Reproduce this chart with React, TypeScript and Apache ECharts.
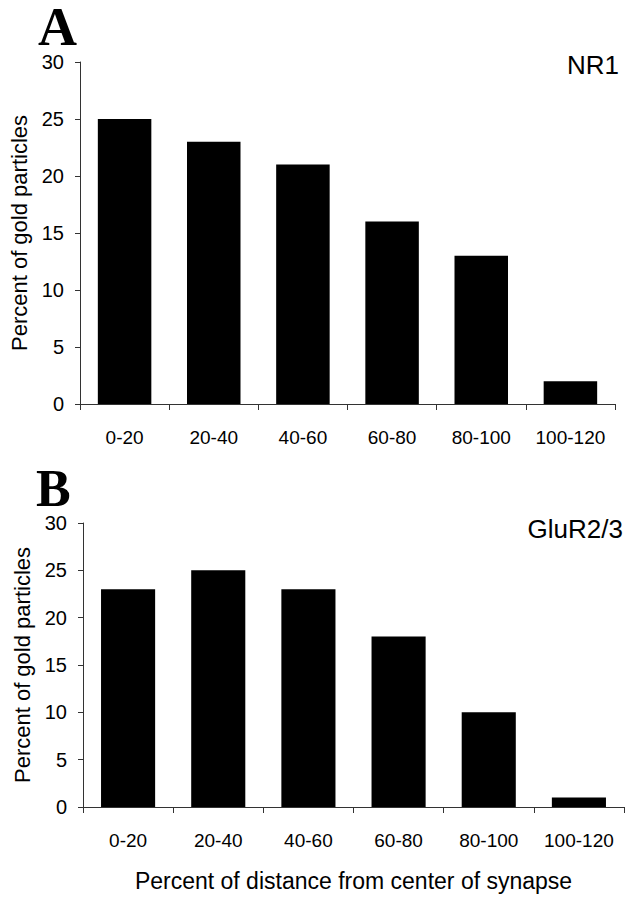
import React, { useEffect, useRef } from "react";
import * as echarts from "echarts";

const categories = ["0-20", "20-40", "40-60", "60-80", "80-100", "100-120"];
const nr1Values = [25, 23, 21, 16, 13, 2];
const gluValues = [23, 25, 23, 18, 10, 1];
const yAxisName = "Percent of gold particles";
const xAxisName = "Percent of distance from center of synapse";
const panelLabels = ["A", "B"];
const seriesNames = ["NR1", "GluR2/3"];

const SANS = "Liberation Sans";
const SERIF = "Liberation Serif";

function makeX(gridIndex: number, withName: boolean) {
  return {
    type: "category",
    gridIndex,
    data: categories,
    boundaryGap: true,
    axisLine: { show: true, lineStyle: { color: "#333", width: 1 } },
    axisTick: { show: true, length: 6, alignWithLabel: false, lineStyle: { color: "#333" } },
    axisLabel: { color: "#000", fontFamily: SANS, fontSize: 19, margin: 24, interval: 0 },
    name: withName ? xAxisName : "",
    nameLocation: "middle",
    nameGap: 62,
    nameTextStyle: { color: "#000", fontFamily: SANS, fontSize: 23 },
  };
}

function makeY(gridIndex: number) {
  return {
    type: "value",
    gridIndex,
    min: 0,
    max: 30,
    interval: 5,
    splitLine: { show: false },
    axisLine: { show: true, lineStyle: { color: "#333", width: 1 } },
    axisTick: { show: true, length: 5, lineStyle: { color: "#333" } },
    axisLabel: { color: "#000", fontFamily: SANS, fontSize: 20, margin: 16 },
    name: yAxisName,
    nameLocation: "middle",
    nameGap: 50,
    nameTextStyle: { color: "#000", fontFamily: SANS, fontSize: 22 },
  };
}

export default function App() {
  const ref = useRef<HTMLDivElement>(null);
  useEffect(() => {
    document.body.style.margin = "0";
    const chart = echarts.init(ref.current!, null, { renderer: "svg" });
    chart.setOption({
      animation: false,
      backgroundColor: "#fff",
      grid: [
        { left: 73, right: 18, top: 62, height: 342 },
        { left: 83, right: 9, top: 523, height: 284 },
      ],
      xAxis: [makeX(0, false), makeX(1, true)],
      yAxis: [makeY(0), makeY(1)],
      series: [
        {
          type: "bar",
          name: seriesNames[0],
          xAxisIndex: 0,
          yAxisIndex: 0,
          data: nr1Values,
          barCategoryGap: "40%",
          itemStyle: { color: "#000" },
        },
        {
          type: "bar",
          name: seriesNames[1],
          xAxisIndex: 1,
          yAxisIndex: 1,
          data: gluValues,
          barCategoryGap: "40%",
          itemStyle: { color: "#000" },
        },
      ],
      graphic: [
        {
          type: "text",
          left: 38,
          top: 0,
          style: { text: panelLabels[0], font: `bold 54px "${SERIF}"`, lineHeight: 46, fill: "#000" },
        },
        {
          type: "text",
          left: 36,
          top: 462,
          style: { text: panelLabels[1], font: `bold 52px "${SERIF}"`, lineHeight: 44, fill: "#000" },
        },
        {
          type: "text",
          right: 14,
          top: 52,
          style: { text: seriesNames[0], font: `26px "${SANS}"`, fill: "#000" },
        },
        {
          type: "text",
          right: 10,
          top: 516,
          style: { text: seriesNames[1], font: `26px "${SANS}"`, fill: "#000" },
        },
      ],
    });
    return () => chart.dispose();
  }, []);
  return <div ref={ref} style={{ width: 633, height: 900 }} />;
}
